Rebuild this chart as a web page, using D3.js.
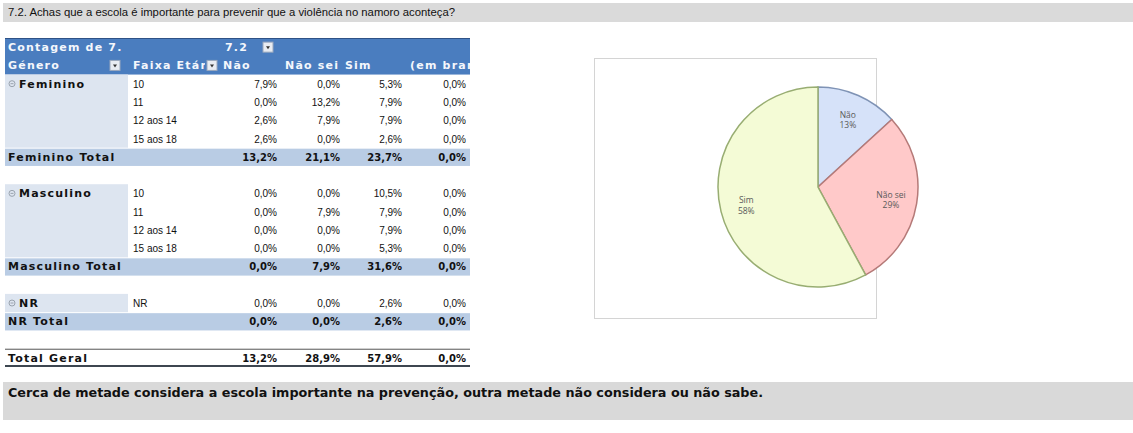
<!DOCTYPE html>
<html>
<head lang="pt">
  <title>7.2 escola</title>
  <script src="https://d3js.org/d3.v7.min.js" charset="utf-8"></script>
  <style>
    body { margin: 0; background: #fff; }
  </style>
</head>
<body>
  <script>

    // data
    var titleText = "7.2. Achas que a escola é importante para prevenir que a violência no namoro aconteça?";
    var noteText = "Cerca de metade considera a escola importante na prevenção, outra metade não considera ou não sabe.";
    var answers = ["Não", "Não sei", "Sim", "(em branco)"];
    var ageGroups = ["10", "11", "12 aos 14", "15 aos 18"];
    var feminino = [[7.9, 0.0, 5.3, 0.0], [0.0, 13.2, 7.9, 0.0], [2.6, 7.9, 7.9, 0.0], [2.6, 0.0, 2.6, 0.0]];
    var femininoTotal = [13.2, 21.1, 23.7, 0.0];
    var masculino = [[0.0, 0.0, 10.5, 0.0], [0.0, 7.9, 7.9, 0.0], [0.0, 0.0, 7.9, 0.0], [0.0, 0.0, 5.3, 0.0]];
    var masculinoTotal = [0.0, 7.9, 31.6, 0.0];
    var nr = [[0.0, 0.0, 2.6, 0.0]];
    var nrTotal = [0.0, 0.0, 2.6, 0.0];
    var totalGeral = [13.2, 28.9, 57.9, 0.0];
    var pieLabels = ["Não", "Não sei", "Sim"];
    var pieValues = [13.2, 28.9, 57.9];

    var width = 1133;
    var height = 433;

    var svg = d3.select("body")
      .append("svg")
      .attr("width", width)
      .attr("height", height);

    var defs = svg.append("defs");

    //TITLE BAND
    svg.append("rect")
      .attr("x", 3).attr("y", 3)
      .attr("width", width - 3).attr("height", 19)
      .attr("fill", "#dadada");
    svg.append("text")
      .attr("x", 8).attr("y", 16)
      .attr("font-family", "'Liberation Sans', sans-serif")
      .attr("font-size", "10px")
      .attr("fill", "#111")
      .attr("textLength", 447)
      .attr("lengthAdjust", "spacingAndGlyphs")
      .text(titleText);

    //PIVOT TABLE
    var rows = [];
    rows.push({type: "h1"});
    rows.push({type: "h2"});
    function addGroup(name, ages, vals, total) {
      vals.forEach(function(v, i) {
        rows.push({type: "data", group: i == 0 ? name : null, span: vals.length, age: ages[i], vals: v});
      });
      rows.push({type: "total", label: name + " Total", vals: total});
    }
    addGroup("Feminino", ageGroups, feminino, femininoTotal);
    rows.push({type: "blank"});
    addGroup("Masculino", ageGroups, masculino, masculinoTotal);
    rows.push({type: "blank"});
    addGroup("NR", ["NR"], nr, nrTotal);
    rows.push({type: "blank"});
    rows.push({type: "grand", label: "Total Geral", vals: totalGeral});

    var tableLeft = 5, tableRight = 470;
    var y = d3.scaleBand()
      .domain(d3.range(rows.length))
      .range([38, 367]);

    // right edge of each value column
    var colRight = d3.scaleOrdinal()
      .domain(answers)
      .range([277, 340, 402, 466]);
    var colLeft = d3.scaleOrdinal()
      .domain(answers)
      .range([223, 285, 345, 410]);

    var fmt = function(v) { return v.toFixed(1).replace(".", ",") + "%"; };

    var boldFont = "'DejaVu Sans', sans-serif";
    var plainFont = "'Liberation Sans', Arial, sans-serif";

    defs.append("clipPath").attr("id", "tclip")
      .append("rect").attr("x", tableLeft).attr("y", 0)
      .attr("width", tableRight - tableLeft).attr("height", height);
    defs.append("clipPath").attr("id", "faixaclip")
      .append("rect").attr("x", 128).attr("y", 0)
      .attr("width", 77).attr("height", height);

    var table = svg.append("g").attr("clip-path", "url(#tclip)");

    // header
    table.append("rect")
      .attr("x", tableLeft).attr("y", y(0))
      .attr("width", tableRight - tableLeft).attr("height", y.bandwidth() * 2)
      .attr("fill", "#4a7dbf");
    table.append("line")
      .attr("x1", tableLeft).attr("x2", tableRight)
      .attr("y1", y(0) + 0.5).attr("y2", y(0) + 0.5)
      .attr("stroke", "#2f5286");

    function headText(x, row, txt, clip) {
      var t = table.append("text")
        .attr("x", x).attr("y", y(row) + y.bandwidth() / 2 + 4)
        .attr("font-family", boldFont)
        .attr("font-weight", "bold")
        .attr("font-size", "11px")
        .attr("letter-spacing", "1.2px")
        .attr("fill", "#f4f7fc")
        .text(txt);
      if (clip) t.attr("clip-path", clip);
    }
    function dropBtn(x, row) {
      var cy = y(row) + y.bandwidth() / 2;
      table.append("rect")
        .attr("x", x).attr("y", cy - 5)
        .attr("width", 10).attr("height", 10)
        .attr("fill", "#e8ecf2").attr("stroke", "#9aa8bd");
      table.append("path")
        .attr("d", "M" + (x + 3) + "," + (cy - 1) + "L" + (x + 7) + "," + (cy - 1) + "L" + (x + 5) + "," + (cy + 2) + "Z")
        .attr("fill", "#333");
    }
    headText(8, 0, "Contagem de 7.");
    headText(225, 0, "7.2");
    dropBtn(263, 0);
    headText(8, 1, "Género");
    dropBtn(110, 1);
    headText(133, 1, "Faixa Etária", "url(#faixaclip)");
    dropBtn(207, 1);
    answers.forEach(function(a) {
      headText(colLeft(a), 1, a);
    });

    // body rows
    rows.forEach(function(r, i) {
      var top = y(i), mid = top + y.bandwidth() / 2;
      if (r.type == "data") {
        if (r.group) {
          table.append("rect")
            .attr("x", tableLeft).attr("y", top)
            .attr("width", 123).attr("height", y.bandwidth() * r.span)
            .attr("fill", "#dde5f0");
          table.append("circle")
            .attr("cx", 12).attr("cy", mid)
            .attr("r", 3)
            .attr("fill", "none").attr("stroke", "#9aa3ae");
          table.append("line")
            .attr("x1", 10.5).attr("x2", 13.5)
            .attr("y1", mid).attr("y2", mid)
            .attr("stroke", "#9aa3ae");
          table.append("text")
            .attr("x", 19).attr("y", mid + 4)
            .attr("font-family", boldFont).attr("font-weight", "bold")
            .attr("font-size", "11px").attr("letter-spacing", "1.2px")
            .attr("fill", "#111")
            .text(r.group);
        }
        table.append("text")
          .attr("x", 133).attr("y", mid + 4)
          .attr("font-family", plainFont).attr("font-size", "10px")
          .attr("fill", "#111")
          .text(r.age);
        answers.forEach(function(a, j) {
          table.append("text")
            .attr("x", colRight(a)).attr("y", mid + 4)
            .attr("text-anchor", "end")
            .attr("font-family", plainFont).attr("font-size", "10px")
            .attr("fill", "#111")
            .text(fmt(r.vals[j]));
        });
      }
      if (r.type == "total" || r.type == "grand") {
        if (r.type == "total") {
          table.append("rect")
            .attr("x", tableLeft).attr("y", top + 1)
            .attr("width", tableRight - tableLeft).attr("height", y.bandwidth() - 1)
            .attr("fill", "#b9cce4");
        } else {
          table.append("line")
            .attr("x1", tableLeft).attr("x2", tableRight)
            .attr("y1", top + 0.5).attr("y2", top + 0.5)
            .attr("stroke", "#555");
          table.append("line")
            .attr("x1", tableLeft).attr("x2", tableRight)
            .attr("y1", top + y.bandwidth() - 1).attr("y2", top + y.bandwidth() - 1)
            .attr("stroke", "#3d4650").attr("stroke-width", 2);
        }
        table.append("text")
          .attr("x", 8).attr("y", mid + 4)
          .attr("font-family", boldFont).attr("font-weight", "bold")
          .attr("font-size", "11px").attr("letter-spacing", "1.2px")
          .attr("fill", "#111")
          .text(r.label);
        answers.forEach(function(a, j) {
          table.append("text")
            .attr("x", colRight(a)).attr("y", mid + 4)
            .attr("text-anchor", "end")
            .attr("font-family", boldFont).attr("font-weight", "bold")
            .attr("font-size", "10px")
            .attr("fill", "#111")
            .text(fmt(r.vals[j]));
        });
      }
    });

    //PIE CHART
    svg.append("rect")
      .attr("x", 594.5).attr("y", 58.5)
      .attr("width", 282).attr("height", 260)
      .attr("fill", "#fff")
      .attr("stroke", "#d4d4d4");

    var cx = 818, cy = 187, radius = 100;
    var pieFill = [["#d6e2f9", "#afc6f0"], ["#ffc9c9", "#f59494"], ["#f4fbd6", "#cde88a"]];
    var pieEdge = ["#7f93b5", "#b57a78", "#98ad72"];

    pieFill.forEach(function(c, i) {
      var gr = defs.append("linearGradient")
        .attr("id", "pg" + i)
        .attr("gradientUnits", "userSpaceOnUse")
        .attr("x1", cx - radius).attr("y1", cy - radius)
        .attr("x2", cx + radius * 0.4).attr("y2", cy + radius);
      gr.append("stop").attr("offset", "0%").attr("stop-color", c[0]);
      gr.append("stop").attr("offset", "100%").attr("stop-color", c[1]);
    });

    var pie = d3.pie().sort(null).value(function(d) { return d; });
    var arc = d3.arc().innerRadius(0).outerRadius(radius);
    var labelArc = d3.arc().innerRadius(radius * 0.74).outerRadius(radius * 0.74);

    var pg = svg.append("g");
    var arcs = pie(pieValues);

    pg.selectAll("path")
      .data(arcs)
      .enter().append("path")
        .attr("transform", "translate(" + cx + "," + cy + ")")
        .attr("d", arc)
        .attr("fill", function(d, i) { return "url(#pg" + i + ")"; })
        .attr("stroke", function(d, i) { return pieEdge[i]; })
        .attr("stroke-width", 1.5);

    var lab = pg.selectAll("text.lab")
      .data(arcs)
      .enter().append("text")
        .attr("class", "lab")
        .attr("text-anchor", "middle")
        .attr("font-family", "'Open Sans', sans-serif")
        .attr("font-size", "8.5px")
        .attr("fill", "#5a5a5a")
        .attr("transform", function(d) {
          var c = labelArc.centroid(d);
          return "translate(" + (cx + c[0]) + "," + (cy + c[1]) + ")";
        });
    lab.append("tspan")
      .attr("x", 0).attr("dy", "-0.2em")
      .text(function(d, i) { return pieLabels[i]; });
    lab.append("tspan")
      .attr("x", 0).attr("dy", "1.25em")
      .text(function(d) { return Math.round(d.value) + "%"; });

    //NOTE BAND
    svg.append("rect")
      .attr("x", 3).attr("y", 382)
      .attr("width", width - 3).attr("height", 38)
      .attr("fill", "#d9d9d9");
    svg.append("text")
      .attr("x", 8).attr("y", 397)
      .attr("font-family", "'Liberation Sans Narrow', 'DejaVu Sans Condensed', sans-serif")
      .attr("font-weight", "bold")
      .attr("font-size", "12px")
      .attr("fill", "#111")
      .attr("textLength", 755)
      .attr("lengthAdjust", "spacingAndGlyphs")
      .text(noteText);

  </script>
</body>
</html>
